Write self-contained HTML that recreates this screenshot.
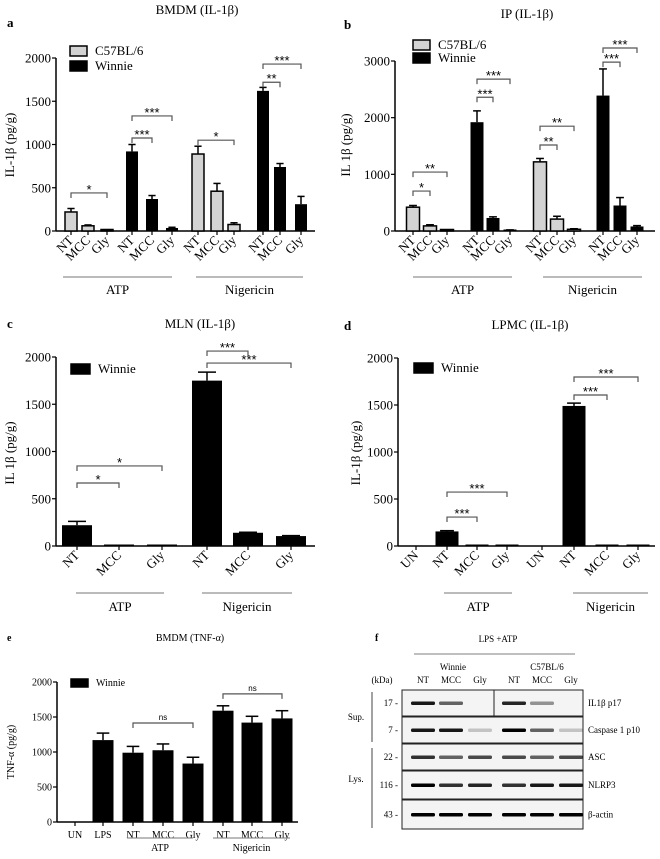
<!DOCTYPE html>
<html><head><meta charset="utf-8"><style>
body{margin:0;background:#fff;}
svg{display:block;font-family:"Liberation Serif",serif;}
</style></head><body>
<svg id="fig" width="660" height="859" viewBox="0 0 660 859"></svg>
<script>
// Panel a
const aCats=["NT","MCC","Gly","NT","MCC","Gly","NT","MCC","Gly","NT","MCC","Gly"];
const aVals=[220,60,10,920,370,35,890,460,75,1620,740,310];
const aErrs=[40,10,5,80,40,8,90,90,20,40,40,90];
const aGroup=["C57BL/6","C57BL/6","C57BL/6","Winnie","Winnie","Winnie","C57BL/6","C57BL/6","C57BL/6","Winnie","Winnie","Winnie"];
const aTicks=[0,500,1000,1500,2000];
const aSig=[[0,2,440,"*"],[3,4,1075,"***"],[3,5,1330,"***"],[6,8,1050,"*"],[9,10,1720,"**"],[9,11,1930,"***"]];
// Panel b
const bCats=aCats;
const bVals=[420,90,10,1920,230,15,1220,210,30,2390,450,80];
const bErrs=[30,20,5,200,20,5,60,50,10,470,140,15];
const bGroup=aGroup;
const bTicks=[0,1000,2000,3000];
const bSig=[[0,1,705,"*"],[0,2,1040,"**"],[3,4,2360,"***"],[3,5,2680,"***"],[6,7,1517,"**"],[6,8,1850,"**"],[9,10,2980,"***"],[9,11,3230,"***"]];
// Panel c
const cCats=["NT","MCC","Gly","NT","MCC","Gly"];
const cVals=[220,5,5,1750,140,105];
const cErrs=[40,0,0,90,5,5];
const cTicks=[0,500,1000,1500,2000];
const cSig=[[0,1,667,"*"],[0,2,847,"*"],[3,4,2063,"***"],[3,5,1936,"***"]];
// Panel d
const dCats=["UN","NT","MCC","Gly","UN","NT","MCC","Gly"];
const dVals=[0,155,5,5,0,1490,5,5];
const dErrs=[0,8,0,0,0,30,0,0];
const dTicks=[0,500,1000,1500,2000];
const dSig=[[1,2,308,"***"],[1,3,574,"***"],[5,6,1606,"***"],[5,7,1798,"***"]];
// Panel e
const eCats=["UN","LPS","NT","MCC","Gly","NT","MCC","Gly"];
const eVals=[0,1170,990,1025,835,1590,1420,1480];
const eErrs=[0,100,90,90,90,70,90,110];
const eTicks=[0,500,1000,1500,2000];
const eSig=[[2,4,1414,"ns"],[5,7,1830,"ns"]];

const NS="http://www.w3.org/2000/svg";
const svg=document.getElementById("fig");
function mk(tag,attrs,parent,txt){const e=document.createElementNS(NS,tag);for(const k in attrs)e.setAttribute(k,attrs[k]);if(txt!==undefined)e.textContent=txt;(parent||svg).appendChild(e);return e;}
function txt(x,y,s,size,anchor,parent,extra){const t=mk("text",Object.assign({x:x,y:y,"font-size":size,"text-anchor":anchor||"middle",fill:"#000"},extra||{}),parent,s);return t;}

function panel(cfg){
  const g=mk("g",{});
  
  
  const max=cfg.ticks[cfg.ticks.length-1];
  const yS=v=>cfg.y0-(v/max)*(cfg.y0-cfg.yTop);
  const ax=mk("g",{},g);
  
  
  mk("line",{x1:cfg.x0,y1:cfg.yTop,x2:cfg.x0,y2:cfg.y0+(cfg.axisExt||0),stroke:"#000","stroke-width":1.5},ax);
  cfg.ticks.forEach(t=>{const y=yS(t);mk("line",{x1:cfg.x0-4,y1:y,x2:cfg.x0,y2:y,stroke:"#000","stroke-width":1.2},ax);
    const tl=txt(cfg.x0-5,y+cfg.fs*0.35,String(t),cfg.fs,"end",ax);
    
    });
  const xa=mk("line",{x1:cfg.x0,y1:cfg.y0,x2:cfg.xEnd,y2:cfg.y0,stroke:"#000","stroke-width":1.5},g);
  
  
  cfg.vals.forEach((v,i)=>{
    const cx=cfg.xs[i];const fill=cfg.groups&&cfg.groups[i]==="C57BL/6"?"#d3d3d3":"#000";
    if(cfg.errs[i]>0){mk("line",{x1:cx,y1:yS(v),x2:cx,y2:yS(v+cfg.errs[i]),stroke:"#000","stroke-width":1.5},g);
      mk("line",{x1:cx-cfg.bw*0.3,y1:yS(v+cfg.errs[i]),x2:cx+cfg.bw*0.3,y2:yS(v+cfg.errs[i]),stroke:"#000","stroke-width":1.5},g);}
    const h=Math.max(cfg.y0-yS(v),v>0?1.5:0);
    const r=mk("rect",{x:cx-cfg.bw/2,y:cfg.y0-h,width:cfg.bw,height:h,fill:fill,stroke:"#000","stroke-width":fill==="#000"?0:1.5},g);
    
    
    mk("line",{x1:cx,y1:cfg.y0,x2:cx,y2:cfg.y0+4,stroke:"#000","stroke-width":1.2},g);
    let lab;
    if(cfg.rot){lab=txt(cx+3,cfg.y0+10,cfg.cats[i],cfg.fs,"end",g,{transform:`rotate(-45 ${cx+3} ${cfg.y0+10})`});}
    else lab=txt(cx,cfg.y0+16,cfg.cats[i],cfg.fs,"middle",g);
    
    
  });
  cfg.sig.forEach(s=>{
    const x1=cfg.xs[s[0]],x2=cfg.xs[s[1]],y=yS(s[2]);
    const b=mk("g",{},g);
    
    
    mk("path",{d:`M${x1},${y+5}V${y}H${x2}V${y+5}`,fill:"none",stroke:"#555","stroke-width":1.2},b);
    txt((x1+x2)/2,s[3]==="ns"?y-3:y+1,s[3],s[3]==="ns"?cfg.fs-2:cfg.fs,"middle",b,{"font-family":"Liberation Sans, sans-serif"});
  });
  cfg.gl.forEach(l=>{const gg=mk("g",{},g);
    
    
    mk("line",{x1:l[0],y1:l[2],x2:l[1],y2:l[2],stroke:"#777","stroke-width":1},gg);
    txt((l[0]+l[1])/2,l[2]+(cfg.glOff||17),l[3],cfg.fs,"middle",gg);});
  const t=txt(cfg.title[1],cfg.title[2],cfg.title[0],cfg.fs,"middle",g);
  
  
  const L=txt(cfg.letter[1],cfg.letter[2],cfg.letter[0],cfg.fs,"start",g,{"font-weight":"bold"});
  
  
  const yl=txt(cfg.ylab[1],cfg.ylab[2],cfg.ylab[0],cfg.fs,"middle",g,{transform:`rotate(-90 ${cfg.ylab[1]} ${cfg.ylab[2]})`});
  
  
  cfg.legend.forEach(le=>{const lg=mk("g",{},g);
    
    
    mk("rect",{x:le[1],y:le[2],width:le[4],height:le[5],fill:le[3],stroke:"#000","stroke-width":1.5},lg);
    txt(le[1]+le[4]+8,le[2]+le[5]-1,le[0],cfg.fs,"start",lg);});
}

panel({name:"panel-a-bmdm-il1b",cats:aCats,vals:aVals,errs:aErrs,groups:aGroup,ticks:aTicks,sig:aSig,
  x0:56,xEnd:315,y0:231,yTop:58,bw:12,fs:13,rot:true,
  xs:[71,88,107,132,152,172,198,217,234,263,280,301],
  gl:[[63,172,277,"ATP"],[196,303,277,"Nigericin"]],
  title:["BMDM (IL-1β)",197,14],letter:["a",7,27],ylab:["IL-1β (pg/g)",14,145],
  legend:[["C57BL/6",70,46,"#d3d3d3",17,10],["Winnie",70,61,"#000",17,10]]});
panel({name:"panel-b-ip-il1b",cats:bCats,vals:bVals,errs:bErrs,groups:bGroup,ticks:bTicks,sig:bSig,
  x0:395,xEnd:655,y0:231,yTop:61,bw:13,fs:13,rot:true,
  xs:[413,430,447,477,493,510,540,557,574,603,620,637],
  gl:[[413,512,277,"ATP"],[543,642,277,"Nigericin"]],
  title:["IP (IL-1β)",527,18],letter:["b",344,29],ylab:["IL 1β (pg/g)",350,145],
  legend:[["C57BL/6",413,40,"#d3d3d3",17,10],["Winnie",413,53,"#000",17,10]]});
panel({name:"panel-c-mln-il1b",cats:cCats,vals:cVals,errs:cErrs,ticks:cTicks,sig:cSig,
  x0:56,xEnd:315,y0:546,yTop:357,bw:30,fs:13,rot:true,
  xs:[77,119,162,207,248,291],
  gl:[[76,164,593,"ATP"],[202,292,593,"Nigericin"]],glOff:18,
  title:["MLN (IL-1β)",200,328],letter:["c",7,328],ylab:["IL 1β (pg/g)",14,453],
  legend:[["Winnie",71,364,"#000",19,10]]});
panel({name:"panel-d-lpmc-il1b",cats:dCats,vals:dVals,errs:dErrs,ticks:dTicks,sig:dSig,
  x0:398,xEnd:655,y0:546,yTop:358,bw:23,fs:13,rot:true,
  xs:[416,447,477,507,542,574,607,638],
  gl:[[444,512,593,"ATP"],[573,648,593,"Nigericin"]],glOff:18,
  title:["LPMC (IL-1β)",530,329],letter:["d",344,330],ylab:["IL-1β (pg/g)",360,453],
  legend:[["Winnie",414,363,"#000",19,10]]});
panel({name:"panel-e-bmdm-tnfa",cats:eCats,vals:eVals,errs:eErrs,ticks:eTicks,sig:eSig,
  x0:57,xEnd:298,y0:822,yTop:682,bw:21,fs:10,rot:false,
  xs:[75,103,133,163,193,223,252,282],
  gl:[[127,193,838,"ATP"],[213,290,838,"Nigericin"]],glOff:13,
  title:["BMDM  (TNF-α)",190,641],letter:["e",7,641],ylab:["TNF-α (pg/g)",14,752],
  legend:[["Winnie",71,679,"#000",17,8]]});

// Panel f: western blot
const fRows=["IL1β p17","Caspase 1 p10","ASC","NLRP3","β-actin"];
const fKda=["17","7","22","116","43"];
const fLanes=["NT","MCC","Gly","NT","MCC","Gly"];
const fIntensity=[[0.9,0.6,0,0.85,0.4,0],[0.9,0.9,0.2,1,0.6,0.2],[0.8,0.6,0.7,0.7,0.6,0.7],[1,0.8,0.85,0.8,0.9,0.9],[1,1,1,1,1,1]];
(function(){
  const g=mk("g",{});
  
  
  const f=txt(375,641,"f",10,"start",g,{"font-weight":"bold"});
  
  
  txt(498,642,"LPS +ATP",9,"middle",g);
  mk("line",{x1:414,y1:654,x2:575,y2:654,stroke:"#555","stroke-width":0.8},g);
  txt(453,670,"Winnie",9,"middle",g);txt(547,670,"C57BL/6",9,"middle",g);
  txt(382,683,"(kDa)",9,"middle",g);
  const lx=[423,451,480,514,542,571];
  fLanes.forEach((l,i)=>{txt(lx[i],683,l,9,"middle",g);});
  const ys=[690,717,744,771,800,830];
  fRows.forEach((r,ri)=>{
    const y1=ys[ri],y2=ys[ri+1]-1;
    const row=mk("g",{},g);
    
    
    mk("rect",{x:402,y:y1,width:181,height:y2-y1,fill:"#f4f4f4",stroke:"#222","stroke-width":1},row);
    fIntensity[ri].forEach((v,i)=>{if(v>0)mk("rect",{x:lx[i]-12,y:(y1+y2)/2-1.5,width:24,height:3.5,rx:1.5,fill:"#000","fill-opacity":v},row);});
    txt(588,(y1+y2)/2+3,r,9,"start",row);
    txt(398,(y1+y2)/2+3,fKda[ri]+" -",9,"end",row);
  });
  mk("line",{x1:494,y1:690,x2:494,y2:716,stroke:"#222","stroke-width":1},g);
  mk("line",{x1:372,y1:692,x2:372,y2:742,stroke:"#444"},g);
  mk("line",{x1:372,y1:748,x2:372,y2:828,stroke:"#444"},g);
  txt(356,720,"Sup.",9,"middle",g);txt(356,782,"Lys.",9,"middle",g);
})();
</script>
</body></html>
